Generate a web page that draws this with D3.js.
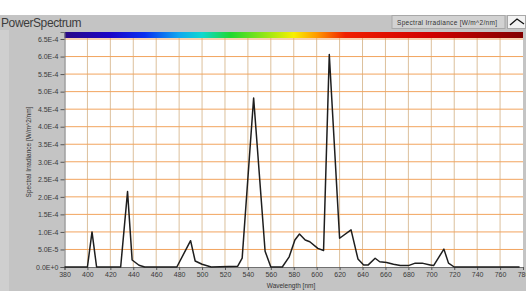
<!DOCTYPE html>
<meta charset="utf-8">
<head>
  <style>
    body { margin: 0; background: #ffffff; }
    .tick text { font-family: "Liberation Sans", Arial; font-size: 7px; fill: #3a3a3a; }
    .axis-title { font-family: "Liberation Sans", Arial; font-size: 6.5px; fill: #333333; }
    .chart-title { font-family: "Liberation Sans", Arial; font-size: 12px; fill: #3c3c3c; letter-spacing: -0.4px; }
  </style>
</head>
<script src="https://d3js.org/d3.v7.min.js"></script>
<div id="my_dataviz"></div>
<script>
const WIDTH = 526;
const HEIGHT = 291;

// data
var wavelength = [380, 400, 404, 408, 429, 435, 439, 445, 450, 478, 490, 494, 500, 508,
  531, 535, 545, 555, 560, 570, 576, 581, 585, 590, 594, 601, 606, 611, 620, 630,
  636, 641, 645, 651, 655, 661, 667, 673, 680, 686, 692, 699, 702, 711, 715, 720, 777];
var irradiance = [0, 0, 1.0e-4, 0, 0, 2.15e-4, 2.0e-5, 5e-6, 0, 0, 7.5e-5, 1.7e-5, 8e-6, 0,
  2e-6, 2.5e-5, 4.82e-4, 4.5e-5, 0, 0, 2.9e-5, 7.7e-5, 9.4e-5, 7.7e-5, 7.2e-5, 5.3e-5, 4.7e-5, 6.06e-4, 8.2e-5, 1.06e-4,
  2.3e-5, 6e-6, 6e-6, 2.5e-5, 1.5e-5, 1.3e-5, 8e-6, 4e-6, 4e-6, 1.1e-5, 1.1e-5, 6e-6, 4e-6, 5.1e-5, 1.1e-5, 0, 0];

var xTicks = [380, 400, 420, 440, 460, 480, 500, 520, 540, 560, 580, 600, 620, 640, 660, 680, 700, 720, 740, 760, 780];
var yTicks = [0, 5e-5, 1e-4, 1.5e-4, 2e-4, 2.5e-4, 3e-4, 3.5e-4, 4e-4, 4.5e-4, 5e-4, 5.5e-4, 6e-4, 6.5e-4];
var yTickLabels = ["0.0E+0", "5.0E-5", "1.0E-4", "1.5E-4", "2.0E-4", "2.5E-4", "3.0E-4", "3.5E-4",
  "4.0E-4", "4.5E-4", "5.0E-4", "5.5E-4", "6.0E-4", "6.5E-4"];

// spectrum colours for the bar on top
var barStops = [[380, "#2a0a86"], [420, "#1c06c8"], [450, "#0a30f0"], [480, "#10a8f0"], [500, "#10d8d0"],
  [525, "#20d830"], [560, "#a8e810"], [580, "#f8f000"], [600, "#ff9a00"], [625, "#f02000"],
  [700, "#d00000"], [780, "#820000"]];

var svg = d3.select("#my_dataviz")
  .append("svg")
  .attr("width", WIDTH)
  .attr("height", HEIGHT);

// panel background
svg.append("rect").attr("x", 0).attr("y", 15).attr("width", WIDTH).attr("height", HEIGHT - 15).attr("fill", "#c4c4c4");
svg.append("rect").attr("x", 0).attr("y", 30).attr("width", 9).attr("height", HEIGHT - 30).attr("fill", "#cfcfcf");

svg.append("text").attr("class", "chart-title").attr("x", 1).attr("y", 27).text("PowerSpectrum");

// legend
svg.append("rect").attr("x", 392).attr("y", 15.5).attr("width", 113).attr("height", 13)
  .attr("fill", "#d2d2d2").attr("stroke", "#a8a8a8");
svg.append("text").attr("class", "axis-title").attr("x", 397).attr("y", 25)
  .attr("textLength", 100).text("Spectral Irradiance [W/m^2/nm]");
svg.append("rect").attr("x", 507.5).attr("y", 15.5).attr("width", 18).attr("height", 13)
  .attr("fill", "#f2f2f2").attr("stroke", "#a8a8a8");
svg.append("path").attr("d", "M510,25 L517,19 L524,24").attr("fill", "none").attr("stroke", "#111").attr("stroke-width", 1.3);

var x = d3.scaleLinear().domain([380, 780]).range([64.5, 523]);
var y = d3.scaleLinear().domain([0, 6.7e-4]).range([267, 32]);

// plot area
svg.append("rect").attr("x", x(380)).attr("y", y(6.7e-4)).attr("width", x(780) - x(380)).attr("height", y(0) - y(6.7e-4))
  .attr("fill", "#ffffff");

// grid
svg.append("g").selectAll("line").data(xTicks.slice(1, -1)).enter().append("line")
  .attr("x1", d => x(d)).attr("x2", d => x(d)).attr("y1", y(0)).attr("y2", y(6.7e-4))
  .attr("stroke", "#dcc09c").attr("stroke-width", 1);
svg.append("g").selectAll("line").data(yTicks.slice(1)).enter().append("line")
  .attr("x1", x(380)).attr("x2", x(780)).attr("y1", d => y(d)).attr("y2", d => y(d))
  .attr("stroke", "#f2a45e").attr("stroke-width", 1);

// colour bar
var grad = svg.append("defs").append("linearGradient").attr("id", "spec")
  .attr("x1", "0%").attr("x2", "100%");
grad.selectAll("stop").data(barStops).enter().append("stop")
  .attr("offset", d => ((d[0] - 380) / 400 * 100) + "%")
  .attr("stop-color", d => d[1]);
svg.append("rect").attr("x", x(380)).attr("y", 32).attr("width", x(780) - x(380)).attr("height", 6)
  .attr("fill", "url(#spec)");

// axes
var yAxis = svg.append("g").attr("transform", `translate(${x(380)},0)`)
  .call(d3.axisLeft(y).tickValues(yTicks).tickFormat((d, i) => yTickLabels[i]).tickSize(4).tickPadding(2));
var xAxis = svg.append("g").attr("transform", `translate(0,${y(0)})`)
  .call(d3.axisBottom(x).tickValues(xTicks).tickFormat(d3.format("d")).tickSize(3).tickPadding(2));
[yAxis, xAxis].forEach(a => {
  a.select(".domain").attr("stroke", "#707070");
  a.selectAll(".tick line").attr("stroke", "#555");
});

// spectrum line
var line = d3.line().x((d, i) => x(wavelength[i])).y(d => y(d));
svg.append("path").datum(irradiance)
  .attr("d", line)
  .attr("fill", "none")
  .attr("stroke", "#1e1e1e")
  .attr("stroke-width", 1.5)
  .attr("stroke-linejoin", "round");

// axis titles
svg.append("text").attr("class", "axis-title")
  .attr("text-anchor", "middle")
  .attr("transform", "translate(31,152) rotate(-90)")
  .text("Spectral Irradiance [W/m^2/nm]");
svg.append("text").attr("class", "axis-title")
  .attr("text-anchor", "middle")
  .attr("x", 291).attr("y", 288)
  .text("Wavelength [nm]");
</script>
